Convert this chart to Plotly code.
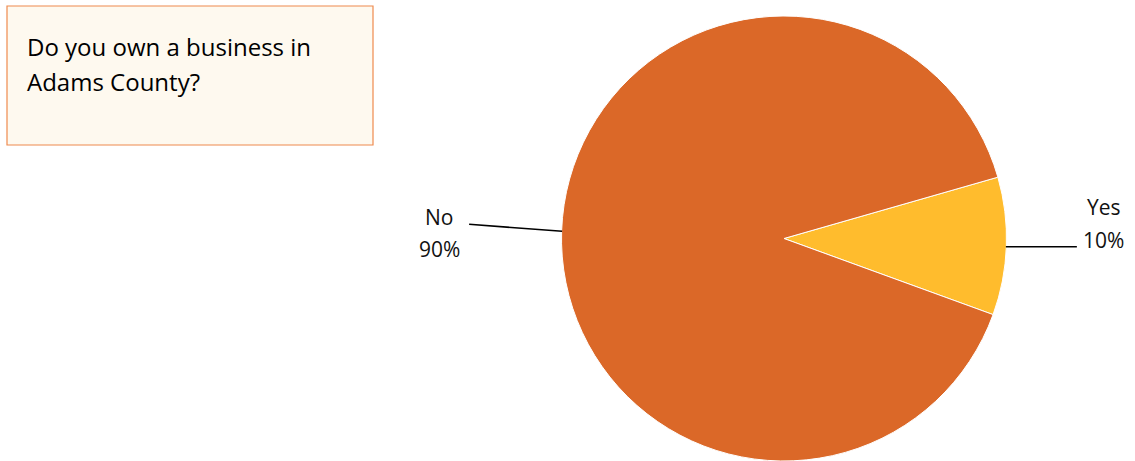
import math
import plotly.graph_objects as go

labels = ["Yes", "No"]
values = [10, 90]
colors = ["#FFBC2D", "#DB6828"]
title_lines = ["Do you own a business in", "Adams County?"]

W, H = 1135, 461
cx, cy, r = 784, 240, 224  # pixel geometry of pie
rotation = 74

fig = go.Figure()
fig.add_trace(go.Pie(
    labels=labels, values=values, sort=False, direction="clockwise",
    rotation=rotation, textinfo="none", hoverinfo="label+percent",
    marker=dict(colors=colors, line=dict(color="white", width=1)),
    domain=dict(x=[(cx - r) / W, (cx + r) / W], y=[max(0, 1 - (cy + r) / H), 1 - (cy - r) / H]),
    showlegend=False,
))

def px(x):
    return x / W

def py(y):
    return 1 - y / H

shapes = []
annotations = []
font = "Open Sans, Noto Sans, sans-serif"
total = sum(values)
start = rotation
rr = 222
for lab, v in zip(labels, values):
    span = 360 * v / total
    mid = math.radians(start + span / 2)
    start += span
    x0 = cx + rr * math.sin(mid)
    y0 = 239 - rr * math.cos(mid)
    pct = f"{round(100 * v / total)}%"
    if math.sin(mid) > 0:
        x1, y1 = x0 + 71, y0
        tx, ly, py_ = x1 + 27, y1 - 40, y1 - 7
    else:
        x1, y1 = x0 - 93, y0 - 7
        tx, ly, py_ = x1 - 30, y1 - 7, y1 + 25
    shapes.append(dict(type="line", xref="paper", yref="paper",
                       x0=px(x0), y0=py(y0), x1=px(x1), y1=py(y1),
                       line=dict(color="black", width=1.6)))
    annotations.append(dict(xref="paper", yref="paper", x=px(tx), y=py(ly),
                            text=lab, showarrow=False, xanchor="center", yanchor="middle",
                            font=dict(family=font, size=21, color="#111")))
    annotations.append(dict(xref="paper", yref="paper", x=px(tx), y=py(py_),
                            text=pct, showarrow=False, xanchor="center", yanchor="middle",
                            font=dict(family=font, size=21, color="#111")))

shapes.append(dict(type="rect", xref="paper", yref="paper",
                   x0=px(7), y0=py(145), x1=px(373), y1=py(6),
                   fillcolor="#FEF9EF", line=dict(color="#EE8A4E", width=1.2), layer="below"))
for i, t in enumerate(title_lines):
    annotations.append(dict(xref="paper", yref="paper", x=px(25), y=py(46 + 35 * i),
                            text=t, showarrow=False, xanchor="left", yanchor="middle",
                            font=dict(family=font, size=24, color="#000")))

fig.update_layout(
    width=W, height=H, margin=dict(l=0, r=0, t=0, b=0),
    paper_bgcolor="white", plot_bgcolor="white",
    shapes=shapes, annotations=annotations,
)
fig.write_html("out.html", config={"displayModeBar": False},
               post_script="document.body.style.margin='0';document.body.style.overflow='hidden';")
